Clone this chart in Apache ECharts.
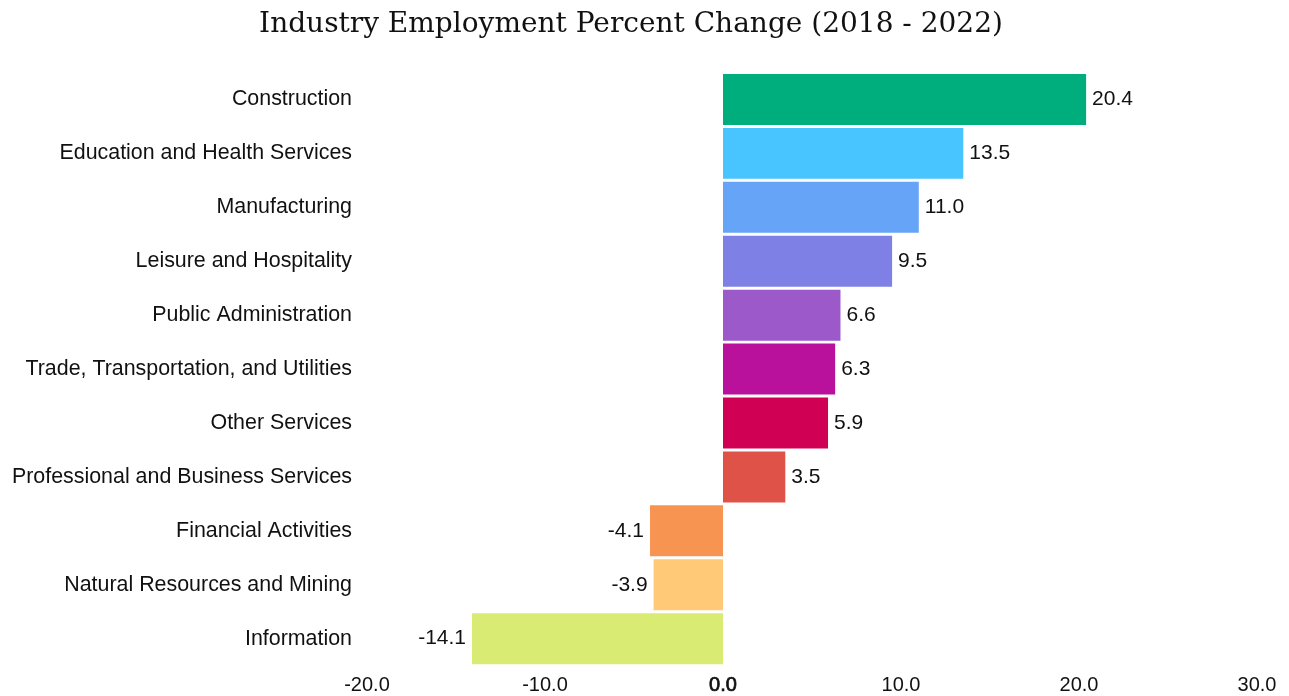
<!DOCTYPE html>
<html>
<head>
<meta charset="utf-8">
<script src="https://cdn.jsdelivr.net/npm/echarts@6/dist/echarts.min.js"></script>
<style>
  html, body { margin: 0; padding: 0; background: #fff; }
  #chart { width: 1289px; height: 696px; }
</style>
</head>
<body>
<div id="chart"></div>
<script>
// Industries, listed top to bottom
const industries = [
  'Construction',
  'Education and Health Services',
  'Manufacturing',
  'Leisure and Hospitality',
  'Public Administration',
  'Trade, Transportation, and Utilities',
  'Other Services',
  'Professional and Business Services',
  'Financial Activities',
  'Natural Resources and Mining',
  'Information'
];

// Percent change in employment, 2018 - 2022
const percentChange = [20.4, 13.5, 11.0, 9.5, 6.6, 6.3, 5.9, 3.5, -4.1, -3.9, -14.1];

const barColors = [
  '#00AE7D', '#48C4FF', '#66A4F8', '#7F80E6', '#9B59C9', '#BA119C',
  '#D00055', '#DF5247', '#F79452', '#FFC977', '#D9EB73'
];

const xTicks = [-20, -10, 0, 10, 20, 30];

const chart = echarts.init(document.getElementById('chart'));

chart.setOption({
  backgroundColor: '#ffffff',
  animation: false,
  title: {
    text: 'Industry Employment Percent Change (2018 - 2022)',
    left: 626,
    top: 6,
    textAlign: 'center',
    textStyle: {
      fontFamily: 'DejaVu Serif',
      fontWeight: 'normal',
      fontSize: 28,
      color: '#111'
    }
  },
  grid: { left: 367, right: 32, top: 72.5, bottom: 28.5, containLabel: false },
  xAxis: {
    type: 'value',
    min: xTicks[0],
    max: xTicks[xTicks.length - 1],
    interval: 10,
    axisLine: { show: false },
    axisTick: { show: false },
    splitLine: { show: false },
    axisLabel: {
      margin: 10,
      fontFamily: 'Liberation Sans Narrow, Arial Narrow, Liberation Sans, sans-serif',
      fontSize: 20,
      color: '#111',
      formatter: v => (v === 0 ? '{z|0.0}' : v.toFixed(1)),
      rich: {
        z: {
          fontFamily: 'Liberation Sans Narrow, Arial Narrow, Liberation Sans, sans-serif',
          fontSize: 20,
          color: '#111',
          textBorderColor: '#111',
          textBorderWidth: 0.7
        }
      }
    }
  },
  yAxis: {
    type: 'category',
    data: industries,
    inverse: true,
    axisLine: { show: false },
    axisTick: { show: false },
    axisLabel: {
      margin: 15,
      fontFamily: 'Liberation Sans, Arial, sans-serif',
      fontSize: 21.4,
      color: '#111'
    }
  },
  series: [{
    type: 'bar',
    barCategoryGap: '5.5%',
    data: percentChange.map((v, i) => ({
      value: v,
      itemStyle: { color: barColors[i] },
      label: { position: v < 0 ? 'left' : 'right' }
    })),
    label: {
      show: true,
      distance: 6,
      fontFamily: 'Liberation Sans, Arial, sans-serif',
      fontSize: 21,
      color: '#111',
      formatter: p => p.value.toFixed(1)
    }
  }]
});
</script>
</body>
</html>
